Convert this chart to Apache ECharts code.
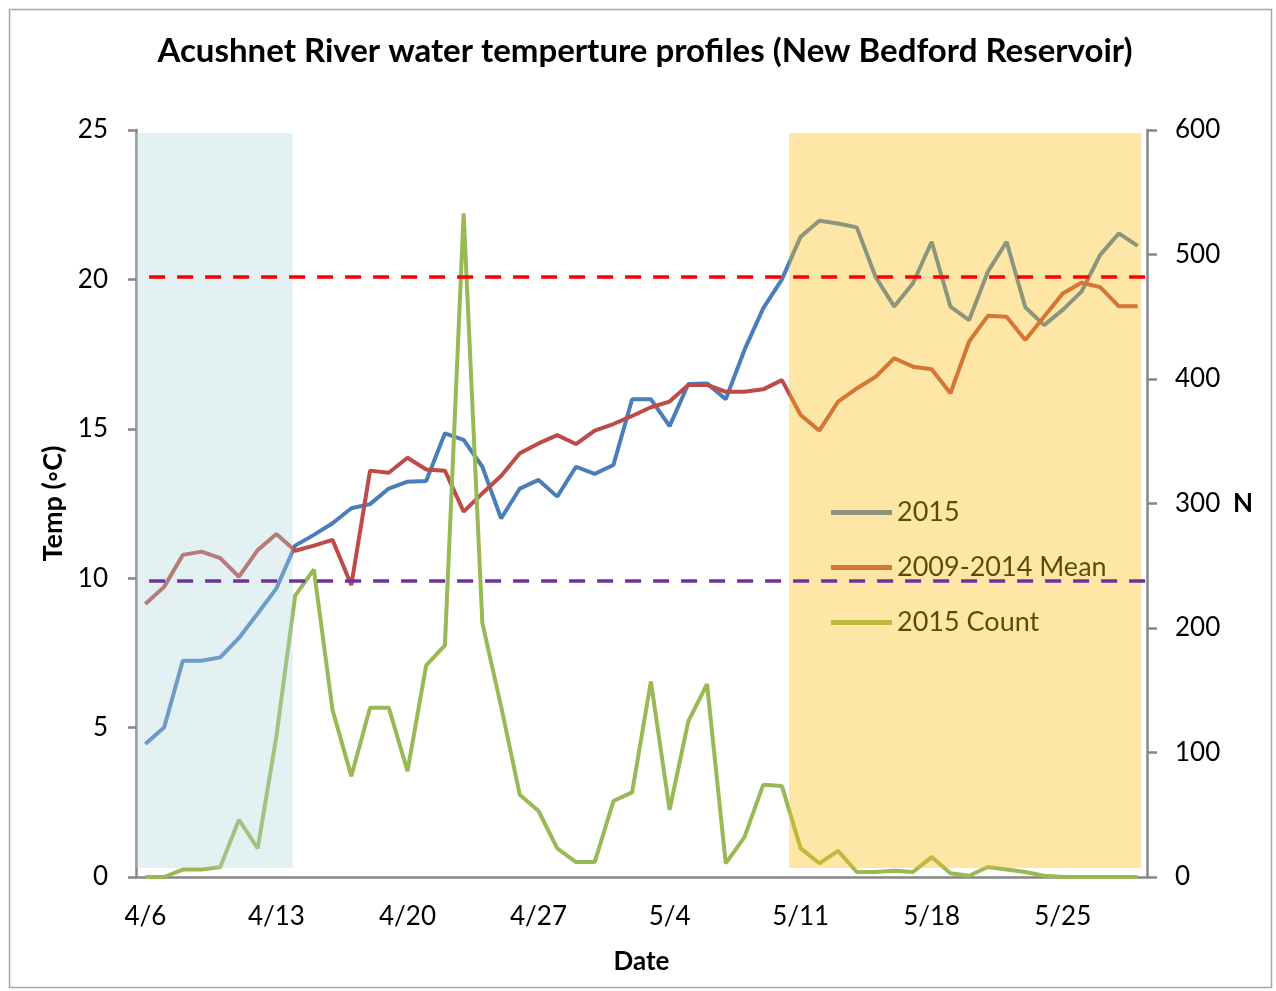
<!DOCTYPE html>
<html>
<head>
<meta charset="utf-8">
<script src="https://cdn.jsdelivr.net/npm/echarts@6/dist/echarts.min.js"></script>
<style>
html,body{margin:0;padding:0;background:#fff;}
#chart{width:1276px;height:991px;}
</style>
</head>
<body>
<div id="chart"></div>
<script>
// ---- data ----
const categories = ['4/6','4/7','4/8','4/9','4/10','4/11','4/12','4/13','4/14','4/15','4/16','4/17','4/18','4/19','4/20','4/21','4/22','4/23','4/24','4/25','4/26','4/27','4/28','4/29','4/30',
  '5/1','5/2','5/3','5/4','5/5','5/6','5/7','5/8','5/9','5/10','5/11','5/12','5/13','5/14','5/15','5/16','5/17','5/18','5/19','5/20','5/21','5/22','5/23','5/24','5/25','5/26','5/27','5/28','5/29'];
const temp2015 = [4.45,5.0,7.24,7.24,7.35,8.0,8.82,9.66,11.09,11.45,11.84,12.34,12.48,13.0,13.23,13.25,14.85,14.63,13.73,12.0,13.0,13.29,12.73,13.73,13.49,
  13.79,15.99,15.99,15.09,16.5,16.52,15.99,17.64,19.03,20.0,21.43,21.96,21.87,21.74,20.09,19.09,19.87,21.26,19.09,18.64,20.26,21.26,19.07,18.47,18.98,19.59,20.82,21.54,21.12];
const mean20092014 = [9.14,9.71,10.78,10.89,10.67,10.05,10.94,11.48,10.92,11.09,11.28,9.77,13.6,13.53,14.03,13.64,13.6,12.23,12.84,13.42,14.18,14.51,14.79,14.49,14.94,
  15.16,15.43,15.72,15.91,16.47,16.47,16.24,16.24,16.32,16.63,15.46,14.94,15.91,16.35,16.74,17.36,17.08,16.99,16.19,17.92,18.78,18.75,17.97,18.75,19.53,19.89,19.74,19.1,19.1];
const count2015 = [0,0,6,6,8,46,23,113,226,247,134,81,136,136,85,170,186,533,204,137,66,53,23,12,12,
  61,68,157,54,125,155,11,32,74,73,23,11,21,4,4,5,4,16,3,1,8,6,4,1,0,0,0,0,0];
const seriesNames = ['2015','2009-2014 Mean','2015 Count'];
// reference thresholds (°C) and the day span they cover
const thresholdHigh = 20.1;
const thresholdLow = 9.9;
const thresholdSpan = [0.7, 53.9];
// shaded periods: [startDay, endDay] and temperature span [low, high]
const earlyPeriod = [0, 8.37];
const latePeriod = [34.88, 53.69];
const shadeTempSpan = [0.3, 24.9];

const FONT = 'Lato';
const AXIS_COLOR = '#868686';

const chart = echarts.init(document.getElementById('chart'), null, {renderer:'canvas'});
const option = {
  animation: false,
  backgroundColor: '#ffffff',
  textStyle: {fontFamily: FONT, color: '#000'},
  title: {
    text: 'Acushnet River water temperture profiles (New Bedford Reservoir)',
    left: 640, top: 30, textAlign: 'center',
    textStyle: {fontFamily: FONT, fontSize: 33, fontWeight: 'bold', color: '#000'}
  },
  graphic: [{
    type: 'rect', left: 7, top: 7, silent: true,
    shape: {width: 1262, height: 978},
    style: {fill: 'none', stroke: '#a6a6a6', lineWidth: 1.5},
    z: 0
  }],
  legend: {
    orient: 'vertical', left: 826, top: 493,
    itemWidth: 61, itemHeight: 5, itemGap: 26,
    icon: 'rect',
    data: seriesNames,
    textStyle: {fontFamily: FONT, fontSize: 27, color: '#000', lineHeight: 29, padding: [0,0,0,0]},
    z: 4
  },
  grid: {left: 136, right: 129, top: 130, bottom: 114},
  xAxis: [{
    type: 'category', data: categories, boundaryGap: true,
    axisLine: {lineStyle: {color: AXIS_COLOR, width: 2.5}},
    axisTick: {interval: 6, length: 9, lineStyle: {color: AXIS_COLOR, width: 2.5}},
    axisLabel: {interval: 6, margin: 27, fontSize: 26, color: '#000', fontFamily: FONT},
    name: 'Date', nameLocation: 'middle', nameGap: 72,
    nameTextStyle: {fontFamily: FONT, fontSize: 26, fontWeight: 'bold', color: '#000'}
  }, {
    type: 'value', min: 0, max: categories.length, show: false
  }],
  yAxis: [{
    type: 'value', min: 0, max: 25, interval: 5, position: 'left',
    axisLine: {show: true, lineStyle: {color: AXIS_COLOR, width: 2.5}},
    axisTick: {show: true, length: 8, lineStyle: {color: AXIS_COLOR, width: 2.5}},
    splitLine: {show: false},
    axisLabel: {margin: 28, fontSize: 26, color: '#000', fontFamily: FONT},
    name: 'Temp (\u25E6C)', nameLocation: 'middle', nameGap: 68,
    nameTextStyle: {fontFamily: FONT, fontSize: 27, fontWeight: 'bold', color: '#000'}
  }, {
    type: 'value', min: 0, max: 600, interval: 100, position: 'right',
    axisLine: {show: true, lineStyle: {color: AXIS_COLOR, width: 2.5}},
    axisTick: {show: true, length: 10, lineStyle: {color: AXIS_COLOR, width: 2.5}},
    splitLine: {show: false},
    axisLabel: {margin: 28, fontSize: 26, color: '#000', fontFamily: FONT},
    name: 'N', nameLocation: 'middle', nameRotate: 0, nameGap: 86,
    nameTextStyle: {fontFamily: FONT, fontSize: 26, fontWeight: 'bold', color: '#000'}
  }],
  series: [{
    name: seriesNames[0], type: 'line', data: temp2015,
    showSymbol: false, color: '#4A7EBB',
    lineStyle: {width: 4, color: '#4A7EBB'}, z: 2
  }, {
    name: seriesNames[1], type: 'line', data: mean20092014,
    showSymbol: false, color: '#BE4B48',
    lineStyle: {width: 4, color: '#BE4B48'}, z: 2
  }, {
    name: seriesNames[2], type: 'line', yAxisIndex: 1, data: count2015,
    showSymbol: false, color: '#98B954',
    lineStyle: {width: 4, color: '#98B954'}, z: 2
  }, {
    name: 'overlay', type: 'line', xAxisIndex: 1, yAxisIndex: 0, data: [],
    markArea: {
      silent: true, z: 20,
      label: {show: false},
      data: [
        [{xAxis: earlyPeriod[0], yAxis: shadeTempSpan[0], itemStyle: {color: 'rgba(176,215,221,0.35)'}},
         {xAxis: earlyPeriod[1], yAxis: shadeTempSpan[1]}],
        [{xAxis: latePeriod[0], yAxis: shadeTempSpan[0], itemStyle: {color: 'rgba(250,190,20,0.38)'}},
         {xAxis: latePeriod[1], yAxis: shadeTempSpan[1]}]
      ]
    },
    markLine: {
      silent: true, z: 30, symbol: ['none','none'],
      label: {show: false},
      data: [
        [{coord: [thresholdSpan[0], thresholdHigh], lineStyle: {color: '#FF0000', width: 3.5, type: [16,12]}},
         {coord: [thresholdSpan[1], thresholdHigh]}],
        [{coord: [thresholdSpan[0], thresholdLow], lineStyle: {color: '#7030A0', width: 3.5, type: [16,12]}},
         {coord: [thresholdSpan[1], thresholdLow]}]
      ]
    }
  }]
};
chart.setOption(option);
</script>
</body>
</html>
